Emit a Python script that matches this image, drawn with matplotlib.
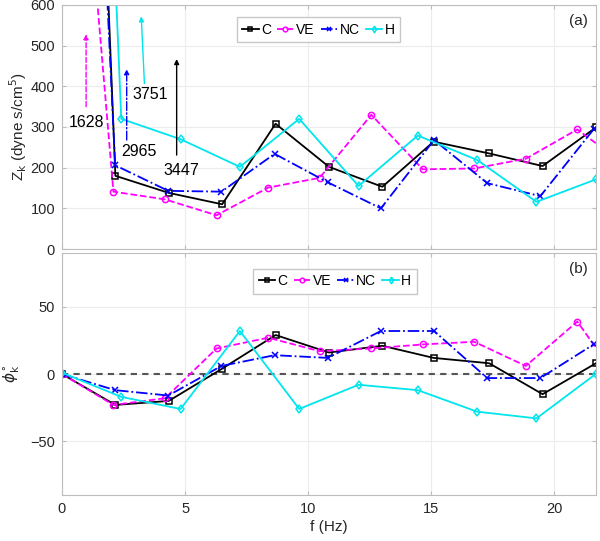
import numpy as np
import matplotlib.pyplot as plt

plt.rcParams['font.family'] = ['Liberation Sans', 'DejaVu Sans']

# harmonic frequencies (Hz) per group
f_C = [0, 2.17, 4.34, 6.51, 8.68, 10.85, 13.02, 15.10, 17.36, 19.53, 21.70]
f_VE = [0, 2.09, 4.19, 6.28, 8.38, 10.47, 12.57, 14.66, 16.75, 18.85, 20.94, 23.04]
f_NC = [0, 2.16, 4.32, 6.48, 8.64, 10.80, 12.96, 15.12, 17.28, 19.44, 21.60]
f_H = [0, 2.41, 4.82, 7.23, 9.64, 12.05, 14.46, 16.87, 19.28, 21.69]

# impedance modulus (dyne s/cm^5)
z_C = [3447, 180, 138, 110, 308, 202, 153, 264, 235, 204, 299]
z_VE = [1628, 141, 122, 83, 151, 175, 330, 196, 198, 222, 294, 200]
z_NC = [2965, 206, 143, 141, 234, 164, 100, 268, 162, 130, 294]
z_H = [3751, 320, 270, 202, 320, 155, 279, 219, 116, 171]

# impedance phase (deg)
p_C = [0, -23, -20, 4, 29, 16, 21, 12, 8, -15, 8]
p_VE = [0, -23, -18, 19, 27, 17, 19, 22, 24, 6, 39, -15]
p_NC = [0, -12, -16, 6, 14, 12, 32, 32, -3, -3, 22]
p_H = [1, -17, -26, 32, -26, -8, -12, -28, -33, 0]

labels = ['C', 'VE', 'NC', 'H']
styles = [dict(color='k', ls='-', marker='s'),
          dict(color='#ff00ff', ls='--', marker='o'),
          dict(color='#0000ff', ls='-.', marker='x'),
          dict(color='#00e5ee', ls='-', marker='d')]

axcol = '#bdbdbd'
txtcol = '#262626'

fig = plt.figure(figsize=(6.0, 5.41), dpi=100)
ax1 = fig.add_axes([0.1033, 0.5397, 0.89, 0.4511])
ax2 = fig.add_axes([0.1033, 0.085, 0.89, 0.4473])

freqs = [f_C, f_VE, f_NC, f_H]
zs = [z_C, z_VE, z_NC, z_H]
ps = [p_C, p_VE, p_NC, p_H]

for f, z, p, lab, st in zip(freqs, zs, ps, labels, styles):
    ax1.plot(f, z, lw=1.3, ms=4.5, mfc='none', mew=1.1, label=lab, **st)
    ax2.plot(f, p, lw=1.3, ms=4.5, mfc='none', mew=1.1, label=lab, **st)

ax2.axhline(0, color='#555555', ls='--', lw=1.5, dashes=(3, 2.5), zorder=1)

# arrows marking the off-scale DC values
arrows = [(0.98, 350, 0.98, 528, '1628', 0.98, 310, '#ff00ff', '--'),
          (2.63, 268, 2.63, 442, '2965', 3.14, 239, '#0000ff', '-.'),
          (4.66, 231, 4.66, 467, '3447', 4.84, 194, 'k', '-'),
          (3.35, 407, 3.22, 572, '3751', 3.58, 379, '#00e5ee', '-')]
for x0, y0, x1, y1, txt, tx, ty, c, ls in arrows:
    ax1.annotate('', xy=(x1, y1), xytext=(x0, y0),
                 arrowprops=dict(arrowstyle='-|>', color=c, ls=ls, lw=1.0,
                                 mutation_scale=7, shrinkA=0, shrinkB=0))
    ax1.text(tx, ty, txt, ha='center', va='center', fontsize=11.5, color='k')

for ax in (ax1, ax2):
    ax.set_xlim(0, 21.7)
    ax.set_xticks([0, 5, 10, 15, 20])
    ax.grid(True, color='#ececec', lw=0.8)
    ax.set_axisbelow(True)
    for s in ax.spines.values():
        s.set_color(axcol)
    ax.tick_params(direction='in', top=True, right=True, color=axcol,
                   labelcolor=txtcol, labelsize=10.5, length=3, pad=5)

ax1.set_ylim(0, 600)
ax1.set_yticks([0, 100, 200, 300, 400, 500, 600])
ax1.tick_params(labelbottom=False)
ax1.set_ylabel(r'Z$_{\rm k}$ (dyne s/cm$^5$)', fontsize=11, color=txtcol, labelpad=1)
ax1.text(0.985, 0.935, '(a)', transform=ax1.transAxes, ha='right', va='center',
         fontsize=11, color=txtcol)

ax2.set_ylim(-90, 90)
ax2.set_yticks([-50, 0, 50])
ax2.set_xlabel('f (Hz)', fontsize=11, color=txtcol, labelpad=3)
ax2.set_ylabel(r'$\phi_{\rm k}^{\circ}$', fontsize=11, color=txtcol, labelpad=6)
ax2.text(0.985, 0.935, '(b)', transform=ax2.transAxes, ha='right', va='center',
         fontsize=11, color=txtcol)

leg_kw = dict(ncol=4, fontsize=10, handlelength=1.2, handletextpad=0.15,
              columnspacing=0.45, borderpad=0.4, borderaxespad=0, fancybox=False,
              framealpha=1, edgecolor='#c8c8c8', markerscale=0.75)
ax1.legend(loc='upper left', bbox_to_anchor=(0.327, 0.95), **leg_kw)
ax2.legend(loc='upper left', bbox_to_anchor=(0.358, 0.936), **leg_kw)

fig.savefig('out.png', dpi=100)
